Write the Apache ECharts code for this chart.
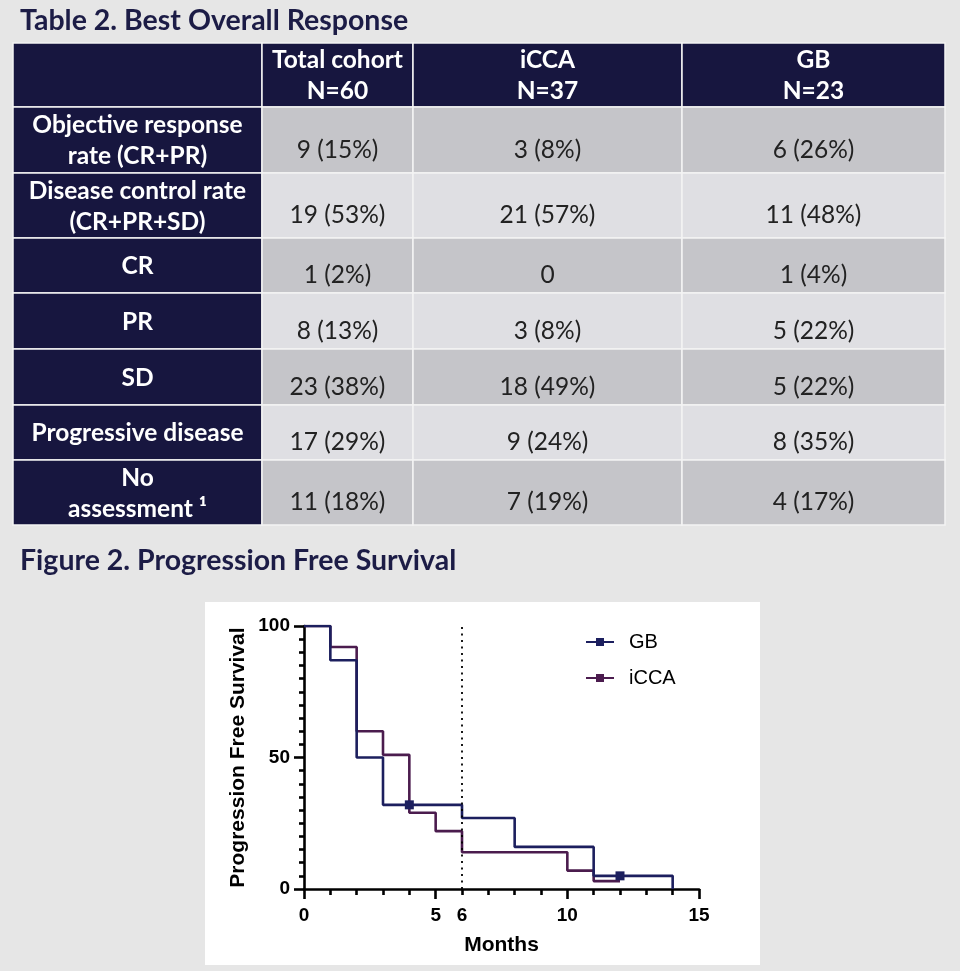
<!DOCTYPE html>
<html>
<head>
<meta charset="utf-8">
<script src="https://cdn.jsdelivr.net/npm/echarts@6/dist/echarts.min.js"></script>
<style>
  html, body { margin: 0; padding: 0; background: #e6e6e6; }
  #chart { width: 960px; height: 971px; }
</style>
</head>
<body>
<div id="chart"></div>
<script>
// ---------- Table 2 data ----------
const colHeaders = ['', 'Total cohort\nN=60', 'iCCA\nN=37', 'GB\nN=23'];
const rowLabels = [
  'Objective response\nrate (CR+PR)',
  'Disease control rate\n(CR+PR+SD)',
  'CR',
  'PR',
  'SD',
  'Progressive disease',
  'No\nassessment \u00B9'
];
const totalN   = [9, 19, 1, 8, 23, 17, 11];
const totalPct = [15, 53, 2, 13, 38, 29, 18];
const iccaN    = [3, 21, 0, 3, 18, 9, 7];
const iccaPct  = [8, 57, 0, 8, 49, 24, 19];
const gbN      = [6, 11, 1, 5, 5, 8, 4];
const gbPct    = [26, 48, 4, 22, 22, 35, 17];

// ---------- Figure 2 data (Kaplan-Meier, step curves) ----------
const gbMonths    = [0, 1, 2, 3, 4, 6, 8, 11, 12, 14];
const gbPFS       = [100, 87, 50, 32, 32, 27, 16, 5, 5, 0];
const gbCensored  = [4, 12];
const iccaMonths  = [0, 1, 2, 3, 4, 5, 6, 10, 11, 12];
const iccaPFS     = [100, 92, 60, 51, 29, 22, 14, 7, 3, 3];
const iccaCensored = [];
const xTickLabels = [0, 5, 6, 10, 15];
const yTickLabels = [0, 50, 100];

// ---------- layout (table geometry in pixels of the table grid) ----------
const colEdges = [0, 249, 400, 669, 932];
const rowEdges = [0, 64, 130, 195, 250, 306, 362, 417, 482];

const NAVY = '#17163f';
const DARK = '#c5c5c9';
const LIGHT = '#dfdfe3';
const fmt = (n, p) => n === 0 ? '0' : n + ' (' + p + '%)';
const valueCols = [
  totalN.map((n, i) => fmt(n, totalPct[i])),
  iccaN.map((n, i) => fmt(n, iccaPct[i])),
  gbN.map((n, i) => fmt(n, gbPct[i]))
];

function cellText(c, r) {
  if (r === 0) return colHeaders[c];
  if (c === 0) return rowLabels[r - 1];
  return valueCols[c - 1][r - 1];
}

const tableData = [];
for (let r = 0; r < rowEdges.length - 1; r++) {
  for (let c = 0; c < colEdges.length - 1; c++) tableData.push([c, r]);
}

const FONT = 'Liberation Sans, Arial, sans-serif';

function kmData(months, pfs, censored) {
  return months.map((m, i) => ({
    value: [m, pfs[i]],
    symbol: censored.includes(m) && (i === 0 || pfs[i - 1] === pfs[i]) ? 'rect' : 'none'
  }));
}

const chart = echarts.init(document.getElementById('chart'), null, { renderer: 'canvas' });
chart.setOption({
  backgroundColor: '#e6e6e6',
  animation: false,
  title: [
    { text: 'Table 2. Best Overall Response', left: 20, top: 6, padding: 0,
      textStyle: { fontFamily: 'Lato', fontWeight: 'bold', fontSize: 28.5, color: '#1c1c46' } },
    { text: 'Figure 2. Progression Free Survival', left: 20, top: 546, padding: 0,
      textStyle: { fontFamily: 'Lato', fontWeight: 'bold', fontSize: 28.5, color: '#1c1c46' } }
  ],
  graphic: [
    { type: 'rect', left: 205, top: 602, shape: { width: 555, height: 363 },
      style: { fill: '#ffffff' }, z: -10, silent: true }
  ],
  legend: {
    orient: 'vertical', left: 585, top: 632, padding: 0,
    itemWidth: 28, itemHeight: 10, itemGap: 16,
    data: ['GB', 'iCCA'],
    textStyle: { fontFamily: FONT, fontSize: 20, color: '#000', padding: [0, 0, 0, 10] }
  },
  grid: [
    { left: 13, top: 43, width: 932, height: 482 },
    { left: 304, top: 626, width: 395, height: 263 }
  ],
  xAxis: [
    { gridIndex: 0, type: 'value', min: 0, max: 932, show: false },
    { gridIndex: 1, type: 'value', min: 0, max: 15, interval: 5,
      axisLine: { show: true, lineStyle: { color: '#000', width: 2.6 } },
      axisTick: { show: true, length: 10, lineStyle: { color: '#000', width: 2.6 } },
      minorTick: { show: true, splitNumber: 5, length: 6, lineStyle: { color: '#000', width: 2.6 } },
      splitLine: { show: false }, minorSplitLine: { show: false },
      axisLabel: { customValues: xTickLabels, fontFamily: FONT, fontWeight: 'bold', fontSize: 19, color: '#000', margin: 17 },
      name: 'Months', nameLocation: 'middle', nameGap: 46,
      nameTextStyle: { fontFamily: FONT, fontWeight: 'bold', fontSize: 21, color: '#000' }
    }
  ],
  yAxis: [
    { gridIndex: 0, type: 'value', min: 0, max: 482, inverse: true, show: false },
    { gridIndex: 1, type: 'value', min: 0, max: 100, interval: 50,
      axisLine: { show: true, lineStyle: { color: '#000', width: 2.6 } },
      axisTick: { show: true, length: 10, lineStyle: { color: '#000', width: 2.6 } },
      minorTick: { show: true, splitNumber: 10, length: 5, lineStyle: { color: '#000', width: 2.6 } },
      splitLine: { show: false }, minorSplitLine: { show: false },
      axisLabel: { customValues: yTickLabels, fontFamily: FONT, fontWeight: 'bold', fontSize: 19, color: '#000', margin: 14 },
      name: 'Progression Free Survival', nameLocation: 'middle', nameGap: 55,
      nameTextStyle: { fontFamily: FONT, fontWeight: 'bold', fontSize: 21, color: '#000' }
    }
  ],
  series: [
    {
      type: 'custom', xAxisIndex: 0, yAxisIndex: 0, silent: true,
      data: tableData,
      renderItem: function (params, api) {
        const c = api.value(0), r = api.value(1);
        const p0 = api.coord([colEdges[c], rowEdges[r]]);
        const p1 = api.coord([colEdges[c + 1], rowEdges[r + 1]]);
        const navy = (r === 0 || c === 0);
        const fill = navy ? NAVY : (r % 2 === 1 ? DARK : LIGHT);
        const cx = (p0[0] + p1[0]) / 2;
        const cy = (p0[1] + p1[1]) / 2 + (navy ? 1 : 10);
        return {
          type: 'group',
          children: [
            { type: 'rect', shape: { x: p0[0], y: p0[1], width: p1[0] - p0[0], height: p1[1] - p0[1] },
              style: { fill: fill, stroke: '#f4f4f4', lineWidth: 1.5 } },
            { type: 'text', x: cx, y: cy,
              style: { text: cellText(c, r), align: 'center', verticalAlign: 'middle',
                       fill: navy ? '#ffffff' : '#222222', lineHeight: 31,
                       font: (navy ? 'bold ' : '') + '24.5px Lato' } }
          ]
        };
      }
    },
    {
      name: 'iCCA', type: 'line', xAxisIndex: 1, yAxisIndex: 1, step: 'end',
      data: kmData(iccaMonths, iccaPFS, iccaCensored),
      symbol: 'rect', symbolSize: 8, showSymbol: true,
      lineStyle: { color: '#4b1c4e', width: 2.6 }, itemStyle: { color: '#4b1c4e' }
    },
    {
      name: 'GB', type: 'line', xAxisIndex: 1, yAxisIndex: 1, step: 'end',
      data: kmData(gbMonths, gbPFS, gbCensored),
      symbol: 'rect', symbolSize: 9, showSymbol: true,
      lineStyle: { color: '#1c1f5e', width: 2.6 }, itemStyle: { color: '#1c1f5e' },
      markLine: {
        silent: true, symbol: ['none', 'none'], label: { show: false },
        lineStyle: { type: [2, 4.5], color: '#000', width: 1.8 },
        data: [{ xAxis: 6 }]
      }
    }
  ]
});
</script>
</body>
</html>
